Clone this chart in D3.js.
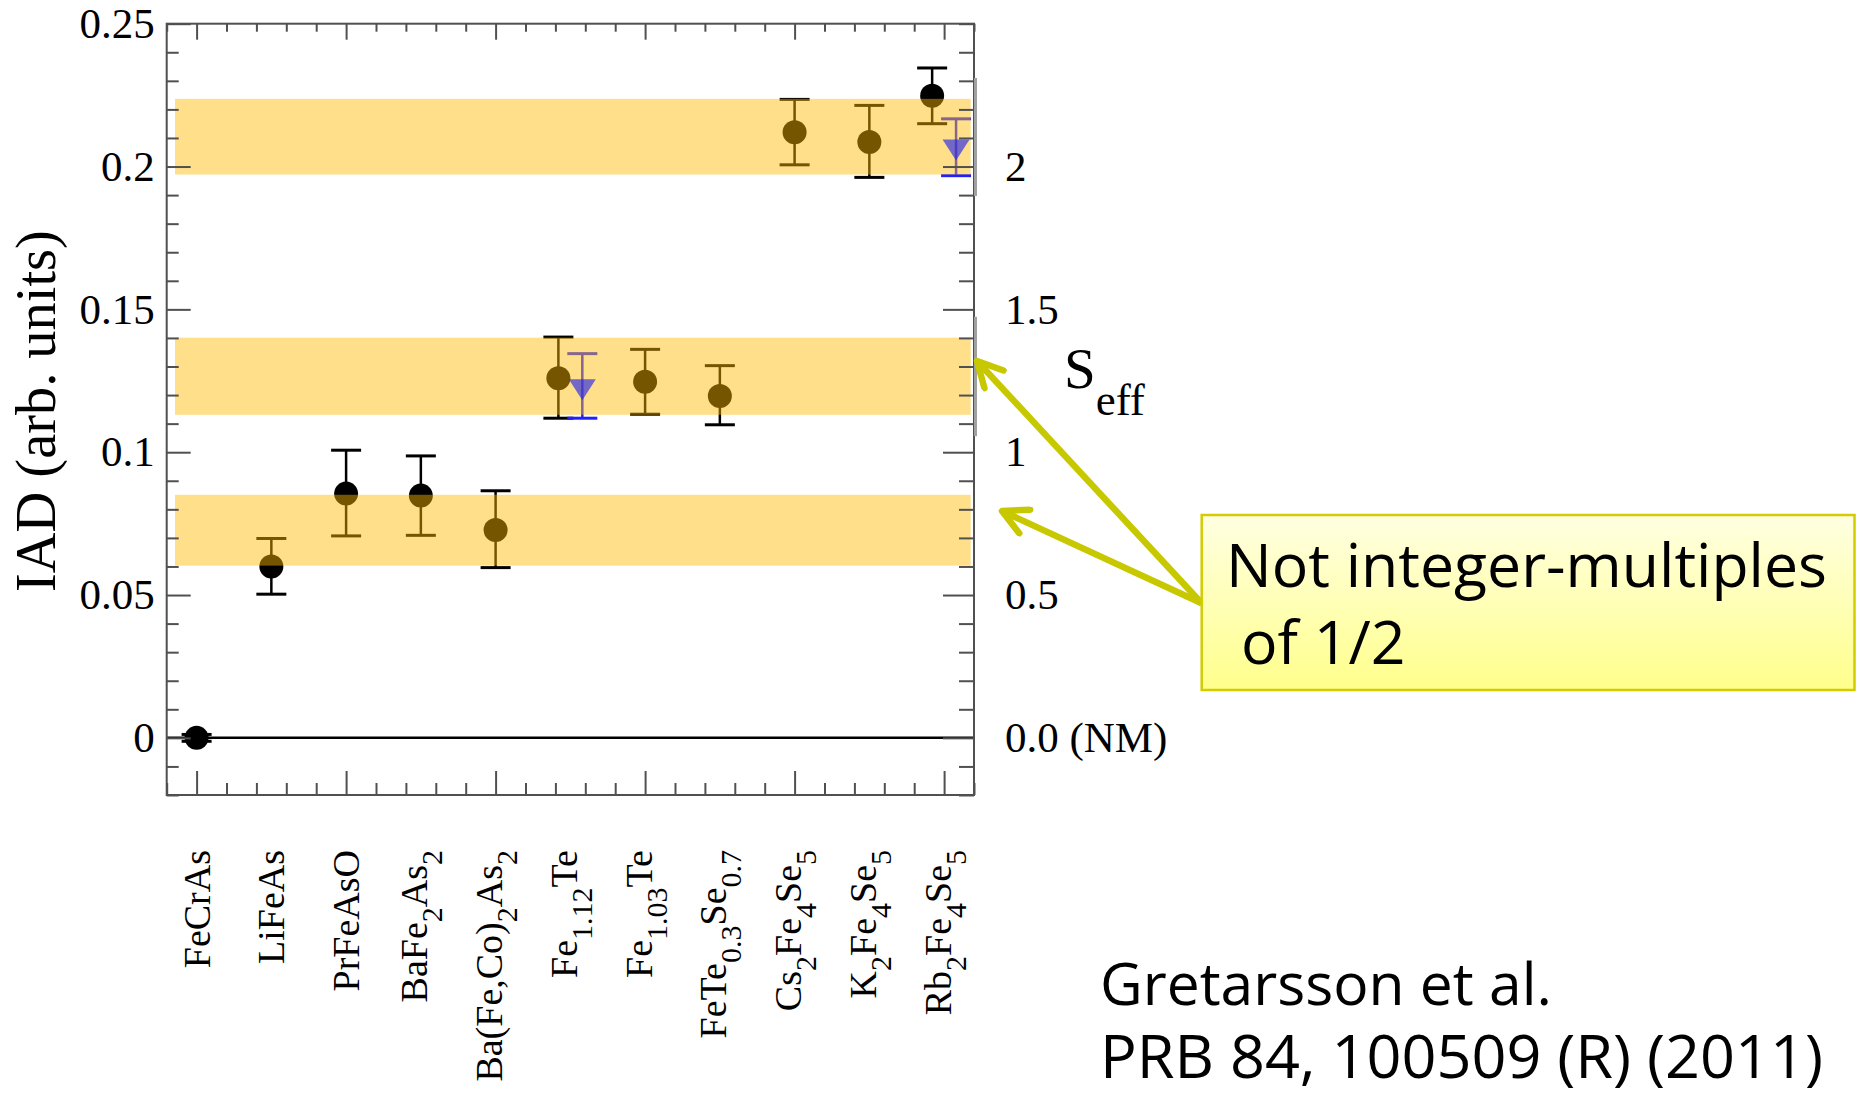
<!DOCTYPE html>
<html>
<head>
<meta charset="utf-8">
<script src="https://cdn.jsdelivr.net/npm/d3@7"></script>
<style>
  html, body { margin: 0; padding: 0; background: #fff; }
  svg { display: block; }
</style>
</head>
<body>
<svg id="chart" width="1864" height="1096"></svg>
<script>
// ---- data -------------------------------------------------------------
// compounds along the x axis; "_{...}" marks a subscript
const categories = [
  "FeCrAs", "LiFeAs", "PrFeAsO", "BaFe_{2}As_{2}", "Ba(Fe,Co)_{2}As_{2}",
  "Fe_{1.12}Te", "Fe_{1.03}Te", "FeTe_{0.3}Se_{0.7}",
  "Cs_{2}Fe_{4}Se_{5}", "K_{2}Fe_{4}Se_{5}", "Rb_{2}Fe_{4}Se_{5}"
];
// IAD (circles) with error-bar limits
const iadValue = [0.0000, 0.0600, 0.0855, 0.0848, 0.0728, 0.1259, 0.1247, 0.1197, 0.2120, 0.2086, 0.2248];
const iadLow   = [-0.0012, 0.0503, 0.0707, 0.0709, 0.0596, 0.1119, 0.1133, 0.1096, 0.2006, 0.1962, 0.2150];
const iadHigh  = [0.0012, 0.0698, 0.1007, 0.0987, 0.0865, 0.1403, 0.1360, 0.1303, 0.2235, 0.2214, 0.2345];
// second measurement (down triangles)
const triCategories = ["Fe_{1.12}Te", "Rb_{2}Fe_{4}Se_{5}"];
const triValue = [0.1220, 0.2060];
const triLow   = [0.1119, 0.1968];
const triHigh  = [0.1345, 0.2167];
// shaded S_eff ranges (in IAD units)
const bandLow  = [0.0603, 0.1131, 0.1972];
const bandHigh = [0.0851, 0.1401, 0.2237];
// axis ticks
const leftTicks = [0, 0.05, 0.1, 0.15, 0.2, 0.25];
const leftTickLabels = ["0", "0.05", "0.1", "0.15", "0.2", "0.25"];
const rightTicks = [0, 0.5, 1, 1.5, 2];
const rightTickLabels = ["0.0 (NM)", "0.5", "1", "1.5", "2"];
const bottomMajor = [0, 2, 4, 6, 8, 10];

// ---- layout -----------------------------------------------------------
const plot = { left: 166.7, right: 974, top: 23.7, bottom: 795 };
const serif = "'Liberation Serif', 'Times New Roman', serif";
const sans = "'Open Sans', 'Noto Sans', sans-serif";
const axisColor = "#505050";
const PAIR_OFFSET = 0.16;

const svg = d3.select("#chart");

const x = d3.scaleLinear().domain([-0.4, 10.4]).range([plot.left, plot.right]);
const y = d3.scaleLinear().domain([-0.02, 0.25]).range([plot.bottom, plot.top]);
const yS = d3.scaleLinear().domain([-0.2, 2.5]).range([plot.bottom, plot.top]);

const catIndex = name => categories.indexOf(name);
const triIdx = triCategories.map(catIndex);
const circleX = i => x(i + (triIdx.includes(i) ? -PAIR_OFFSET : 0));
const triX = k => x(triIdx[k] + PAIR_OFFSET);

function fitWidth(sel, target) {
  const w = sel.node().getComputedTextLength();
  const fs = parseFloat(sel.attr("font-size"));
  sel.attr("font-size", fs * target / w);
  return fs * target / w;
}

// zero line
svg.append("line")
  .attr("x1", plot.left).attr("x2", plot.right)
  .attr("y1", y(0)).attr("y2", y(0))
  .attr("stroke", "#000").attr("stroke-width", 2.5);

// error bars
function errorBar(g, cx, lo, hi, color) {
  g.append("line").attr("x1", cx).attr("x2", cx).attr("y1", y(lo)).attr("y2", y(hi))
    .attr("stroke", color).attr("stroke-width", 2.5);
  [lo, hi].forEach(v => g.append("line")
    .attr("x1", cx - 15).attr("x2", cx + 15).attr("y1", y(v)).attr("y2", y(v))
    .attr("stroke", color).attr("stroke-width", 3));
}
const marks = svg.append("g");
categories.forEach((c, i) => errorBar(marks, circleX(i), iadLow[i], iadHigh[i], "#000"));
triValue.forEach((v, k) => errorBar(marks, triX(k), triLow[k], triHigh[k], "#2020ff"));

marks.selectAll("circle.pt").data(iadValue).join("circle")
  .attr("class", "pt")
  .attr("cx", (d, i) => circleX(i)).attr("cy", d => y(d))
  .attr("r", 12).attr("fill", "#000");

// shaded bands laid over the points
svg.append("g").selectAll("rect").data(bandLow).join("rect")
  .attr("x", plot.left + 8.3)
  .attr("width", (plot.right - 3.3) - (plot.left + 8.3))
  .attr("y", (d, i) => y(bandHigh[i]))
  .attr("height", (d, i) => y(bandLow[i]) - y(bandHigh[i]))
  .attr("fill", "rgb(255,186,0)").attr("fill-opacity", 0.46);

// down triangles
svg.append("g").selectAll("path").data(triValue).join("path")
  .attr("d", (d, k) => {
    const cx = triX(k), cy = y(d);
    return `M${cx - 13.5},${cy - 10}L${cx + 13.5},${cy - 10}L${cx},${cy + 11}Z`;
  })
  .attr("fill", "rgb(40,40,230)").attr("fill-opacity", 0.65);

// ---- axes -------------------------------------------------------------
function styleAxis(g) {
  g.select(".domain").remove();
  g.selectAll(".tick line").attr("stroke", axisColor).attr("stroke-width", 2);
  g.selectAll(".tick text").attr("font-family", serif).attr("font-size", 43).attr("fill", "#000");
}
const isMajor = (v, list) => list.some(t => Math.abs(t - v) < 1e-9);

const leftMinor = d3.range(-2, 26).map(k => k / 100).filter(v => !isMajor(v, leftTicks));
svg.append("g").attr("transform", `translate(${plot.left},0)`)
  .call(d3.axisLeft(y).tickValues(leftMinor).tickFormat("").tickSizeInner(-12).tickSizeOuter(0))
  .call(styleAxis);
svg.append("g").attr("transform", `translate(${plot.left},0)`)
  .call(d3.axisLeft(y).tickValues(leftTicks).tickFormat((d, i) => leftTickLabels[i])
    .tickSizeInner(-24).tickSizeOuter(0).tickPadding(12))
  .call(styleAxis);

const rightMinor = d3.range(-2, 26).map(k => k / 10).filter(v => !isMajor(v, rightTicks));
svg.append("g").attr("transform", `translate(${plot.right},0)`)
  .call(d3.axisRight(yS).tickValues(rightMinor).tickFormat("").tickSizeInner(-15).tickSizeOuter(0))
  .call(styleAxis);
svg.append("g").attr("transform", `translate(${plot.right},0)`)
  .call(d3.axisRight(yS).tickValues(rightTicks).tickFormat((d, i) => rightTickLabels[i])
    .tickSizeInner(-31).tickSizeOuter(0).tickPadding(31))
  .call(styleAxis);

const xMinor = d3.range(-1, 27).filter(k => k % 5 !== 0).map(k => k * 0.4);
svg.append("g").attr("transform", `translate(0,${plot.bottom})`)
  .call(d3.axisBottom(x).tickValues(xMinor).tickFormat("").tickSizeInner(-12).tickSizeOuter(0))
  .call(styleAxis);
svg.append("g").attr("transform", `translate(0,${plot.bottom})`)
  .call(d3.axisBottom(x).tickValues(bottomMajor).tickFormat("").tickSizeInner(-24).tickSizeOuter(0))
  .call(styleAxis);
svg.append("g").attr("transform", `translate(0,${plot.top})`)
  .call(d3.axisTop(x).tickValues(xMinor).tickFormat("").tickSizeInner(-8).tickSizeOuter(0))
  .call(styleAxis);
svg.append("g").attr("transform", `translate(0,${plot.top})`)
  .call(d3.axisTop(x).tickValues(bottomMajor).tickFormat("").tickSizeInner(-16).tickSizeOuter(0))
  .call(styleAxis);

// frame
svg.append("rect")
  .attr("x", plot.left).attr("y", plot.top)
  .attr("width", plot.right - plot.left).attr("height", plot.bottom - plot.top)
  .attr("fill", "none").attr("stroke", axisColor).attr("stroke-width", 2);

// light brackets on the right axis beside the two upper bands
[1, 2].forEach(b => svg.append("line")
  .attr("x1", plot.right + 1.5).attr("x2", plot.right + 1.5)
  .attr("y1", y(bandHigh[b] + 0.0073)).attr("y2", y(bandLow[b] - 0.0075))
  .attr("stroke", "#a0a0a0").attr("stroke-width", 3));

// category labels, rotated, with subscripts
function parseLabel(s) {
  const parts = [];
  const re = /_\{([^}]*)\}/g;
  let last = 0, m;
  while ((m = re.exec(s)) !== null) {
    if (m.index > last) parts.push({ t: s.slice(last, m.index), sub: false });
    parts.push({ t: m[1], sub: true });
    last = re.lastIndex;
  }
  if (last < s.length) parts.push({ t: s.slice(last), sub: false });
  return parts;
}
const labelTop = 850;
categories.forEach((c, i) => {
  const g = svg.append("g").attr("transform", `translate(${x(i)},${labelTop}) rotate(-90)`);
  const t = g.append("text").attr("text-anchor", "end")
    .attr("font-family", serif).attr("font-size", 38).attr("fill", "#000");
  let shifted = false;
  parseLabel(c).forEach(p => {
    const ts = t.append("tspan").text(p.t);
    if (p.sub) { ts.attr("font-size", 30); if (!shifted) { ts.attr("dy", 15); shifted = true; } }
    else if (shifted) { ts.attr("dy", -15); shifted = false; }
  });
  const bb = t.node().getBBox();
  t.attr("y", -(bb.y + bb.height / 2));
});

// y-axis title
const yTitle = svg.append("text")
  .attr("transform", "translate(55,592) rotate(-90)")
  .attr("font-family", serif).attr("font-size", 57).attr("fill", "#000")
  .text("IAD (arb. units)");
fitWidth(yTitle, 362);

// right-axis title S_eff
const sTitle = svg.append("text").attr("x", 1064).attr("y", 388)
  .attr("font-family", serif).attr("font-size", 57).attr("fill", "#000");
sTitle.append("tspan").text("S");
sTitle.append("tspan").attr("font-size", 45).attr("dy", 27).text("eff");

// ---- annotation -------------------------------------------------------
const defs = svg.append("defs");
const grad = defs.append("linearGradient").attr("id", "noteFill")
  .attr("x1", 0).attr("y1", 0).attr("x2", 0).attr("y2", 1);
grad.append("stop").attr("offset", "0%").attr("stop-color", "#ffffe2");
grad.append("stop").attr("offset", "100%").attr("stop-color", "#ffff8c");
defs.append("marker").attr("id", "vhead")
  .attr("markerUnits", "userSpaceOnUse").attr("orient", "auto")
  .attr("viewBox", "-30 -16 34 32").attr("refX", 0).attr("refY", 0)
  .attr("markerWidth", 34).attr("markerHeight", 32)
  .append("path").attr("d", "M-25,-13L0,0L-25,13")
  .attr("fill", "none").attr("stroke", "#c8c800").attr("stroke-width", 6.5)
  .attr("stroke-linejoin", "round").attr("stroke-linecap", "round");

const noteFrom = [1201.7, 603.3];
[[977, 361], [1002, 511]].forEach(tip => svg.append("line")
  .attr("x1", noteFrom[0]).attr("y1", noteFrom[1])
  .attr("x2", tip[0]).attr("y2", tip[1])
  .attr("stroke", "#c8c800").attr("stroke-width", 6.5)
  .attr("marker-end", "url(#vhead)"));

svg.append("rect").attr("x", 1201.7).attr("y", 515)
  .attr("width", 652.8).attr("height", 175)
  .attr("fill", "url(#noteFill)").attr("stroke", "#d2cc00").attr("stroke-width", 2.5);

const note1 = svg.append("text").attr("x", 1226).attr("y", 587)
  .attr("font-family", sans).attr("font-size", 60).attr("fill", "#000")
  .text("Not integer-multiples");
const noteSize = fitWidth(note1, 601);
svg.append("text").attr("x", 1241).attr("y", 664)
  .attr("font-family", sans).attr("font-size", noteSize).attr("fill", "#000")
  .text("of 1/2");

// reference
const ref1 = svg.append("text").attr("x", 1100).attr("y", 1005)
  .attr("font-family", sans).attr("font-size", 58).attr("fill", "#000")
  .text("Gretarsson et al.");
fitWidth(ref1, 452);
const ref2 = svg.append("text").attr("x", 1100).attr("y", 1078)
  .attr("font-family", sans).attr("font-size", 58).attr("fill", "#000")
  .text("PRB 84, 100509 (R) (2011)");
fitWidth(ref2, 723);
</script>
</body>
</html>
